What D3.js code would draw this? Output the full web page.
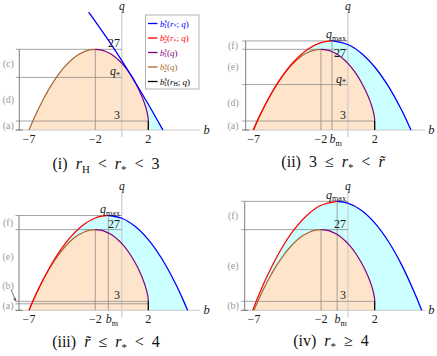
<!DOCTYPE html>
<html>
<head>
<meta charset="utf-8">
<script src="https://cdn.jsdelivr.net/npm/d3@7"></script>
<style>
  body { margin: 0; background: #fff; }
  svg { display: block; }
  text { white-space: pre; }
</style>
</head>
<body>
<div id="chart"></div>
<script>
// critical curve, right branch b_1^s(q): (b, q) from (2,3) up to the top (-2,27)
const critRight = [[2, 3], [1.9975, 3.415], [1.99, 3.86], [1.96, 4.838], [1.91, 5.932], [1.84, 7.134],
  [1.75, 8.438], [1.64, 9.83], [1.51, 11.3], [1.36, 12.83], [1.19, 14.404], [1, 16], [0.79, 17.596],
  [0.56, 19.166], [0.31, 20.684], [0.04, 22.118], [-0.25, 23.438], [-0.56, 24.606], [-0.89, 25.588],
  [-1.24, 26.342], [-1.61, 26.828], [-2, 27]];
// left branch b_2^s(q): from the top down to (-7,0)
const critLeft = [[-2, 27], [-2.41, 26.812], [-2.84, 26.214], [-3.29, 25.156], [-3.76, 23.582],
  [-4.25, 21.438], [-4.76, 18.662], [-5.29, 15.196], [-5.5625, 13.184], [-5.84, 10.974],
  [-6.1225, 8.56], [-6.41, 5.932], [-6.7025, 3.081], [-6.8506, 1.57], [-7, 0]];
// b_1^s(r_H; q)
const horizonSeg = [[2, 0], [2, 3]];

// b_1^s(r_*; q) (blue) and b_2^s(r_*; q) (red), one per panel
const blue1 = [[-2.5, 39.46], [-2, 36.38], [-1, 29.96], [0, 23.19], [0.79, 17.6], [1, 16.07], [2, 8.61], [3, 0.8], [3.1, 0]];
const red2 = [[-7.05, 0], [-6.5, 5.34], [-6, 9.72], [-5, 17.18], [-4, 22.92], [-3, 26.93], [-2, 29.21], [-1.176, 29.8]];
const blue2 = [[-1.176, 29.8], [-1, 29.77], [0, 28.6], [1, 25.71], [2, 21.09], [3, 14.75], [4, 6.68], [4.4, 2.96], [4.7, 0]];
const red3 = [[-7, 0], [-6.5, 5.09], [-6, 9.72], [-5, 17.67], [-4, 23.84], [-3, 28.24], [-2, 30.87], [-1.018, 31.72]];
const blue3 = [[-1.018, 31.72], [0, 30.8], [1, 28.11], [2, 23.65], [3, 17.42], [4, 9.41], [4.5, 4.74], [4.965, 0]];
const red4 = [[-7.1, 0], [-7, 1.15], [-6.5, 6.61], [-6, 11.62], [-5, 20.25], [-4, 27.05], [-3, 32.0], [-2, 35.13], [-0.8, 36.45]];
const blue4 = [[-0.8, 36.45], [0, 35.86], [1, 33.47], [2, 29.25], [3, 23.19], [4, 15.29], [5, 5.56], [5.25, 2.84], [5.5, 0]];

const blueCurves = [blue1, blue2, blue3, blue4];
const redCurves = [null, red2, red3, red4];

const qStarVals = [17.6, 15.2, 2.18, null];
const qMaxVals = [null, 29.8, 31.72, 36.45];
const bMVals = [null, -1.176, -1.018, -0.8];
const tangentB = [0.79, null, null, null];

const bracketLevels = [["27", "qs", "3", "0"], ["qm", "27", "qs", "3", "0"], ["qm", "27", "3", "qs", "0"], ["qm", "27", "3", "0"]];
const regionLabels = [["(c)", "(d)", "(a)"], ["(f)", "(e)", "(d)", "(a)"], ["(f)", "(e)", "(b)", "(a)"], ["(f)", "(e)", "(b)"]];
const regionLabelQ = [[], [], [null, 18, 8.4, 1.6], []];
const axisLabels = [["27", "qs", "3"], ["qm", "27", "qs", "3"], ["qm", "27", "3"], ["qm", "27", "3"]];
const tickVals = [-7, -2, 2];
const tickLabels = ["\u22127", "\u22122", "2"];

const REL = (s) => "\u2002" + s + "\u2002";
const captions = [
  [["(i)\u2002"], ["r", "i"], ["H", "_"], [REL("<")], ["r", "i"], ["*", "_"], [REL("<") + "3"]],
  [["(ii)\u20023" + REL("\u2264")], ["r", "i"], ["*", "_"], [REL("<")], ["r\u0303", "i"]],
  [["(iii)\u2002"], ["r\u0303", "i"], [REL("\u2264")], ["r", "i"], ["*", "_"], [REL("<") + "4"]],
  [["(iv)\u2002"], ["r", "i"], ["*", "_"], [REL("\u2265") + "4"]]
];

const legendItems = [
  { color: "#0000ff", parts: [["b", "i"], ["s", "^"], ["1", "_|"], ["("], ["r", "i"], ["*", "_"], ["; "], ["q", "i"], [")"]] },
  { color: "#ff0000", parts: [["b", "i"], ["s", "^"], ["2", "_|"], ["("], ["r", "i"], ["*", "_"], ["; "], ["q", "i"], [")"]] },
  { color: "#800080", parts: [["b", "i"], ["s", "^"], ["1", "_|"], ["("], ["q", "i"], [")"]] },
  { color: "#a8672e", parts: [["b", "i"], ["s", "^"], ["2", "_|"], ["("], ["q", "i"], [")"]] },
  { color: "#000000", parts: [["b", "i"], ["s", "^"], ["1", "_|"], ["("], ["r", "i"], ["H", "_"], ["; "], ["q", "i"], [")"]] }
];

const FONT = "'Liberation Serif', 'Times New Roman', 'DejaVu Serif', serif";

// panel placement in the 437x356 picture
const panels = [
  { x0: 29, x1: 148.3, yBase: 130, y27: 49.3, bracketX: 19.3, labelX: 8.3, capX: 106, capY: 169, bLabX: 206.7, axL: 15.5, axR: 200 },
  { x0: 253.7, x1: 374.7, yBase: 130, y27: 49.3, bracketX: 245.7, labelX: 233, capX: 333, capY: 167, bLabX: 431.3, axL: 242, axR: 425 },
  { x0: 29, x1: 148.3, yBase: 310.3, y27: 229.6, bracketX: 19, labelX: 8, capX: 106, capY: 347, bLabX: 206.7, axL: 15.3, axR: 200 },
  { x0: 254, x1: 374.7, yBase: 310.3, y27: 229.6, bracketX: 244.7, labelX: 233, capX: 331, capY: 346, bLabX: 431.3, axL: 241, axR: 425 }
];

const svg = d3.select("#chart").append("svg").attr("width", 437).attr("height", 356)
  .attr("font-family", FONT);

function mtext(g, x, y, parts, size, opts = {}) {
  const t = g.append("text").attr("x", x).attr("y", y).attr("font-size", size)
    .attr("font-family", FONT)
    .attr("text-anchor", opts.anchor || "start").attr("fill", opts.color || "#1a1a1a");
  let off = 0;
  parts.forEach(([s, f = ""]) => {
    const sup = f.includes("^"), sub = f.includes("_");
    const target = sup ? -0.36 * size : sub ? 0.22 * size : 0;
    const ts = t.append("tspan").text(s).attr("dy", (target - off).toFixed(2));
    off = target;
    if (sup || sub) ts.attr("font-size", (size * 0.68).toFixed(2));
    if (f.includes("i")) ts.attr("font-style", "italic");
    if (f.includes("|")) ts.attr("dx", (-0.34 * size).toFixed(2));
  });
  return t;
}

function drawPanel(i) {
  const p = panels[i];
  const g = svg.append("g");
  const x = d3.scaleLinear().domain([-7, 2]).range([p.x0, p.x1]);
  const y = d3.scaleLinear().domain([0, 27]).range([p.yBase, p.y27]);
  const ln = d3.line().x(d => x(d[0])).y(d => y(d[1])).curve(d3.curveCatmullRom.alpha(0.5));
  const lv = k => k === "qs" ? qStarVals[i] : k === "qm" ? qMaxVals[i] : +k;

  // cyan region
  const blue = blueCurves[i], red = redCurves[i];
  if (red) {
    g.append("path").attr("d", ln(red.concat(blue.slice(1))) + "Z").attr("fill", "#ccffff");
  } else {
    const pts = blue.filter(d => d[0] >= tangentB[i]);
    g.append("path").attr("d", ln(pts) + `L${x(2)},${y(0)}Z`).attr("fill", "#ccffff");
  }
  // peach region under the critical curve
  const peach = critLeft.slice().reverse().concat(critRight.slice().reverse().slice(1));
  g.append("path").attr("d", ln(peach) + `L${x(2)},${y(0)}Z`).attr("fill", "#ffe4cc");

  // axes
  g.append("line").attr("x1", p.axL).attr("x2", p.axR).attr("y1", y(0)).attr("y2", y(0))
    .attr("stroke", "#c8c8c8").attr("stroke-width", 1);
  g.append("line").attr("x1", x(0)).attr("x2", x(0)).attr("y1", p.yBase - 118).attr("y2", p.yBase + 7)
    .attr("stroke", "#cfcfcf").attr("stroke-width", 1.3);

  // bracket and guide lines
  const levels = bracketLevels[i].map(lv);
  const guide = { stroke: "#858585", "stroke-width": 0.75 };
  const gl = (x1, y1, x2, y2, st = guide) => {
    const l = g.append("line").attr("x1", x1).attr("y1", y1).attr("x2", x2).attr("y2", y2);
    Object.entries(st).forEach(([k, v]) => l.attr(k, v));
  };
  gl(p.bracketX, y(levels[0]), p.bracketX, y(0), { stroke: "#6e6e6e", "stroke-width": 0.9 });
  levels.forEach(L => {
    if (L === 0) gl(p.bracketX - 3.5, y(0), p.bracketX + 3.5, y(0), { stroke: "#6e6e6e", "stroke-width": 0.9 });
    else gl(p.bracketX - 3.5, y(L), x(L <= 3 ? 2 : 0), y(L));
  });
  gl(x(-2), y(27), x(-2), y(0));
  if (bMVals[i] !== null) gl(x(bMVals[i]), y(qMaxVals[i]), x(bMVals[i]), y(0));

  // region labels
  regionLabels[i].forEach((lab, j) => {
    const over = regionLabelQ[i][j];
    const qc = over != null ? over : (levels[j] + levels[j + 1]) / 2;
    g.append("text").attr("x", p.labelX).attr("y", y(qc) + 3.4).attr("text-anchor", "middle")
      .attr("font-family", FONT).attr("font-size", 10).attr("fill", "#9a9a9a").text(lab);
  });
  if (i === 2) {
    const ax = p.labelX + 3, ay = y(8.4) + 4.5, bx = p.bracketX - 2.5, by = y(2.6) - 0.5;
    gl(ax, ay, bx - 1, by - 2, { stroke: "#777", "stroke-width": 1 });
    g.append("path").attr("d", `M${bx},${by}L${bx - 3.6},${by - 3}L${bx - 0.6},${by - 4.2}Z`).attr("fill", "#666");
  }

  // curves
  const curve = (data, color, w) => g.append("path").attr("d", ln(data)).attr("fill", "none")
    .attr("stroke", color).attr("stroke-width", w);
  curve(critLeft, "#a8672e", 1.2);
  curve(critRight, "#800080", 1.2);
  if (red) curve(red, "#ff0000", 1.25);
  curve(blue, "#0000ff", 1.3);
  g.append("path").attr("d", d3.line().x(d => x(d[0])).y(d => y(d[1]))(horizonSeg))
    .attr("stroke", "#000").attr("stroke-width", 1.3);

  // labels next to the q axis
  axisLabels[i].forEach(k => {
    const L = lv(k);
    const parts = k === "qs" ? [["q", "i"], ["*", "_"]] : k === "qm" ? [["q", "i"], ["max", "_"]] : [[k]];
    const below = (i === 1 && k === "27");
    const yy = below ? y(L) + 7.4 : y(L) - (k === "qm" ? 2.6 : 2);
    mtext(g, x(0) - 1.8, yy, parts, 12, { anchor: "end" });
  });

  // tick labels
  tickVals.forEach((v, j) => {
    g.append("text").attr("x", x(v)).attr("y", p.yBase + 13).attr("text-anchor", "middle")
      .attr("font-family", FONT).attr("font-size", 12).attr("fill", "#1a1a1a").text(tickLabels[j]);
  });
  if (bMVals[i] !== null) mtext(g, x(bMVals[i]) - 2.6, p.yBase + 13, [["b", "i"], ["m", "_"]], 12);
  mtext(g, p.bLabX, p.yBase + 4, [["b", "i"]], 12.5, { anchor: "middle" });
  mtext(g, x(0), p.yBase - 120.5, [["q", "i"]], 11.5, { anchor: "middle" });

  // caption
  mtext(g, p.capX, p.capY, captions[i], 16, { anchor: "middle", color: "#111" });
}

[0, 1, 2, 3].forEach(drawPanel);

// legend in panel (i)
const leg = svg.append("g");
leg.append("rect").attr("x", 145.5).attr("y", 15).attr("width", 53.5).attr("height", 74)
  .attr("fill", "#fff").attr("stroke", "#a0a0a0").attr("stroke-width", 0.8);
legendItems.forEach((it, j) => {
  const yy = 23.5 + j * 14.5;
  leg.append("line").attr("x1", 148).attr("x2", 157.5).attr("y1", yy).attr("y2", yy)
    .attr("stroke", it.color).attr("stroke-width", 1.3);
  mtext(leg, 160, yy + 3, it.parts, 9, { color: it.color });
});
</script>
</body>
</html>
